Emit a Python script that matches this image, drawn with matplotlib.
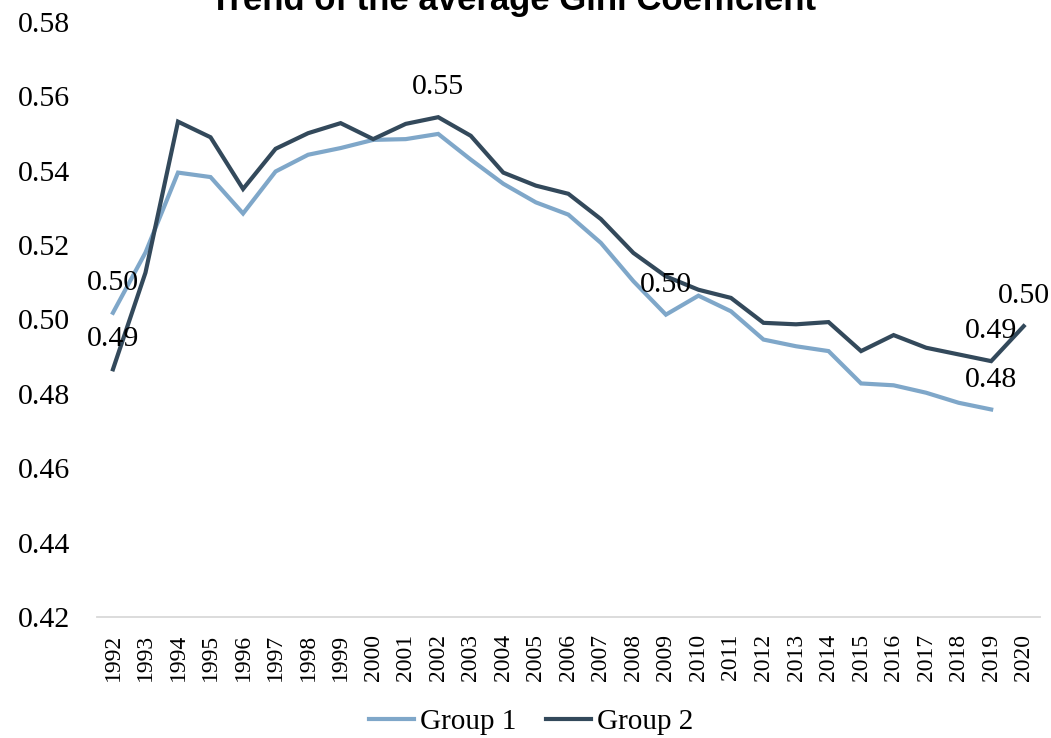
import matplotlib
matplotlib.use("Agg")
import matplotlib.pyplot as plt
import numpy as np

years = list(range(1992, 2021))
group1 = [0.5018, 0.5180, 0.5395, 0.5383, 0.5285, 0.5398, 0.5443, 0.5461, 0.5483, 0.5485,
          0.5499, 0.5430, 0.5365, 0.5315, 0.5282, 0.5206, 0.5103, 0.5013, 0.5064, 0.5022,
          0.4946, 0.4928, 0.4915, 0.4828, 0.4823, 0.4803, 0.4776, 0.4758, np.nan]
group2 = [0.4866, 0.5126, 0.5532, 0.5490, 0.5351, 0.5459, 0.5501, 0.5528, 0.5485, 0.5526,
          0.5544, 0.5494, 0.5395, 0.5360, 0.5338, 0.5270, 0.5179, 0.5116, 0.5080, 0.5058,
          0.4991, 0.4987, 0.4993, 0.4915, 0.4958, 0.4924, 0.4906, 0.4888, 0.4982]
series_names = ["Group 1", "Group 2"]
colors = ["#7fa7c9", "#33495b"]
yticks = [0.42, 0.44, 0.46, 0.48, 0.50, 0.52, 0.54, 0.56, 0.58]
title = "Trend of the average Gini Coefficient"
# data labels: (series index, year)
labels_g1 = [1992, 2009, 2019]
labels_g2 = [1992, 2002, 2019, 2020]

serif = ["Liberation Serif", "DejaVu Serif"]

fig = plt.figure(figsize=(10.51, 7.38), dpi=100)
ax = fig.add_axes([0.092, 0.164, 0.8975, 0.8062])

x = np.arange(len(years))
ax.plot(x, group1, color=colors[0], lw=3.0, label=series_names[0], solid_joinstyle="miter")
ax.plot(x, group2, color=colors[1], lw=3.0, label=series_names[1], solid_joinstyle="miter")

ax.set_xlim(-0.5, len(years) - 0.5)
ax.set_ylim(0.42, 0.58)
ax.set_yticks(yticks)
ax.set_yticklabels([f"{v:.2f}" for v in yticks], fontfamily=serif, fontsize=21.5)
ax.set_xticks(x)
ax.set_xticklabels([str(y) for y in years], rotation=90, fontfamily=serif, fontsize=17)
ax.tick_params(axis="x", length=0, pad=12)
ax.tick_params(axis="y", length=0, pad=19)

for s in ["top", "right", "left"]:
    ax.spines[s].set_visible(False)
ax.spines["bottom"].set_color("#d9d9d9")
ax.spines["bottom"].set_linewidth(1.3)

for yr in labels_g1:
    i = years.index(yr)
    ax.annotate(f"{group1[i]:.2f}", (x[i], group1[i]), xytext=(0, 16.5), textcoords="offset points",
                ha="center", va="baseline", fontfamily=serif, fontsize=21.5, color="black")
for yr in labels_g2:
    i = years.index(yr)
    ax.annotate(f"{group2[i]:.2f}", (x[i], group2[i]), xytext=(0, 16.5), textcoords="offset points",
                ha="center", va="baseline", fontfamily=serif, fontsize=21.5, color="black")

leg = fig.legend(loc="center", bbox_to_anchor=(531 / 1051, 1 - 722 / 738), ncol=2, frameon=False,
                 prop={"family": serif, "size": 21}, handlelength=1.55, handletextpad=0.2,
                 columnspacing=1.0, borderaxespad=0)

fig.text(513 / 1051, 1 - 10 / 738, title, ha="center", va="baseline",
         fontfamily=["Liberation Sans", "DejaVu Sans"], fontweight="bold", fontsize=25)

fig.savefig("out.png", dpi=100)
